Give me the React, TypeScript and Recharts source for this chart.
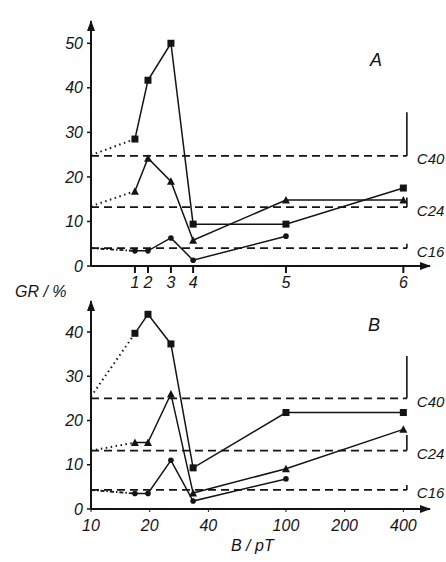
import React from 'react';
import { LineChart, Line, XAxis, YAxis, ReferenceLine, ReferenceDot } from 'recharts';

// Shared magnetic-field positions (pT) of the six measurement points
const X_POS = [16.8, 19.6, 25.7, 33.4, 100, 400];
const A_TICK_LABELS = ['1', '2', '3', '4', '5', '6'];
const B_TICKS = [10, 20, 40, 100, 200, 400];
const A_Y_TICKS = [0, 10, 20, 30, 40, 50];
const B_Y_TICKS = [0, 10, 20, 30, 40];

// Panel A values (GR / %)
const sqA = [28.5, 41.7, 50, 9.4, 9.4, 17.5];
const triA = [16.8, 24.2, 19, 5.8, 14.8, 14.8];
const cirA = [3.4, 3.4, 6.3, 1.3, 6.7];
const startA = { sq: 24.9, tri: 13.4, cir: 4.0 };
const levelsA = [
  { name: 'C40', y: 24.7, top: 34.5 },
  { name: 'C24', y: 13.2, top: 15.4 },
  { name: 'C16', y: 4.0, top: 5.0 },
];

// Panel B values (GR / %)
const sqB = [39.7, 44, 37.3, 9.3, 21.8, 21.8];
const triB = [15, 15, 26, 3.6, 9.1, 18];
const cirB = [3.5, 3.5, 11, 1.8, 6.8];
const startB = { sq: 25.4, tri: 13.2, cir: 4.3 };
const levelsB = [
  { name: 'C40', y: 25.0, top: 34.6 },
  { name: 'C24', y: 13.2, top: 16.7 },
  { name: 'C16', y: 4.3, top: 5.4 },
];

const X_MIN = 10;
const X_MAX = 548;
const LEVEL_END = 417;

const FONT = '"Liberation Sans", Arial, sans-serif';
const INK = '#141414';
const tickStyle = { fill: INK, fontSize: 16, fontStyle: 'italic', fontFamily: FONT };

const pts = (vals: number[]) => vals.map((y, i) => ({ x: X_POS[i], y }));
const lead = (y0: number, vals: number[]) => [{ x: X_MIN, y: y0 }, { x: X_POS[0], y: vals[0] }];

const SquareDot = (p: any) => {
  if (p.cx == null || p.cy == null) return <g key={p.index} />;
  return <rect key={p.index} x={p.cx - 3.5} y={p.cy - 3.5} width={7} height={7} fill={INK} />;
};
const TriDot = (p: any) => {
  if (p.cx == null || p.cy == null) return <g key={p.index} />;
  return (
    <path
      key={p.index}
      d={`M${p.cx - 4},${p.cy + 3.5} L${p.cx},${p.cy - 4} L${p.cx + 4},${p.cy + 3.5} Z`}
      fill={INK}
    />
  );
};
const CircDot = (p: any) => {
  if (p.cx == null || p.cy == null) return <g key={p.index} />;
  return <circle key={p.index} cx={p.cx} cy={p.cy} r={2.8} fill={INK} />;
};

const UpArrow = (p: any) => (
  <path d={`M${p.cx - 4},${p.cy + 10} L${p.cx},${p.cy - 1} L${p.cx + 4},${p.cy + 10} Z`} fill={INK} />
);
const RightArrow = (p: any) => (
  <path d={`M${p.cx - 10},${p.cy - 4} L${p.cx + 1},${p.cy} L${p.cx - 10},${p.cy + 4} Z`} fill={INK} />
);

function renderLevels(levels: { name: string; y: number; top: number }[]) {
  const out: React.ReactNode[] = [];
  levels.forEach((lv) => {
    out.push(
      <ReferenceLine
        key={lv.name + 'd'}
        segment={[{ x: X_MIN, y: lv.y }, { x: LEVEL_END, y: lv.y }]}
        stroke={INK}
        strokeWidth={1.8}
        strokeDasharray="8 5"
        ifOverflow="visible"
        label={{
          value: lv.name,
          position: 'right',
          offset: 10,
          dy: 3,
          fill: INK,
          fontSize: 15,
          fontStyle: 'italic',
          fontFamily: FONT,
        }}
      />
    );
    out.push(
      <ReferenceLine
        key={lv.name + 'v'}
        segment={[{ x: LEVEL_END, y: lv.y }, { x: LEVEL_END, y: lv.top }]}
        stroke={INK}
        strokeWidth={1.6}
        ifOverflow="visible"
      />
    );
  });
  return out;
}

function seriesLines(sq: number[], tri: number[], cir: number[], st: { sq: number; tri: number; cir: number }) {
  return [
    <Line key="sqLead" data={lead(st.sq, sq)} dataKey="y" stroke={INK} strokeWidth={2} strokeDasharray="1.5 3.5" dot={false} isAnimationActive={false} />,
    <Line key="triLead" data={lead(st.tri, tri)} dataKey="y" stroke={INK} strokeWidth={2} strokeDasharray="1.5 3.5" dot={false} isAnimationActive={false} />,
    <Line key="cirLead" data={lead(st.cir, cir)} dataKey="y" stroke={INK} strokeWidth={1.8} strokeDasharray="4 2 1.5 2" dot={false} isAnimationActive={false} />,
    <Line key="sq" data={pts(sq)} dataKey="y" stroke={INK} strokeWidth={1.5} dot={SquareDot} isAnimationActive={false} />,
    <Line key="tri" data={pts(tri)} dataKey="y" stroke={INK} strokeWidth={1.5} dot={TriDot} isAnimationActive={false} />,
    <Line key="cir" data={pts(cir)} dataKey="y" stroke={INK} strokeWidth={1.5} dot={CircDot} isAnimationActive={false} />,
  ];
}

const textStyle: React.CSSProperties = {
  position: 'absolute',
  fontFamily: FONT,
  fontStyle: 'italic',
  color: INK,
  whiteSpace: 'nowrap',
  lineHeight: 1,
};

export default function App() {
  return (
    <div style={{ position: 'absolute', left: 0, top: 0, width: 446, height: 562, background: '#fff', overflow: 'hidden' }}>
      <div style={{ position: 'absolute', left: 0, top: 0 }}>
        <LineChart width={446} height={300} margin={{ top: 21, right: 16, bottom: 4, left: 0 }} style={{ fontFamily: FONT }}>
          <XAxis
            dataKey="x"
            type="number"
            scale="log"
            domain={[X_MIN, X_MAX]}
            allowDataOverflow
            ticks={X_POS}
            interval={0}
            tickFormatter={(v: number) => A_TICK_LABELS[X_POS.indexOf(v)] ?? ''}
            height={30}
            tick={tickStyle}
            tickSize={7}
            tickMargin={4}
            axisLine={{ stroke: INK, strokeWidth: 2 }}
            tickLine={{ stroke: INK, strokeWidth: 2 }}
          />
          <YAxis
            type="number"
            domain={[0, 55]}
            ticks={A_Y_TICKS}
            interval={0}
            width={91}
            tick={tickStyle}
            tickSize={4}
            tickMargin={4}
            axisLine={{ stroke: INK, strokeWidth: 2 }}
            tickLine={{ stroke: INK, strokeWidth: 1.5 }}
          />
          {renderLevels(levelsA)}
          {seriesLines(sqA, triA, cirA, startA)}
          <ReferenceDot x={X_MIN} y={55} r={0} shape={UpArrow} ifOverflow="visible" />
          <ReferenceDot x={X_MAX} y={0} r={0} shape={RightArrow} ifOverflow="visible" />
        </LineChart>
      </div>
      <div style={{ position: 'absolute', left: 0, top: 280 }}>
        <LineChart width={446} height={282} margin={{ top: 21, right: 16, bottom: 23, left: 0 }} style={{ fontFamily: FONT }}>
          <XAxis
            dataKey="x"
            type="number"
            scale="log"
            domain={[X_MIN, X_MAX]}
            allowDataOverflow
            ticks={B_TICKS}
            interval={0}
            height={30}
            tick={tickStyle}
            tickSize={3}
            tickMargin={8}
            axisLine={{ stroke: INK, strokeWidth: 2 }}
            tickLine={{ stroke: INK, strokeWidth: 1 }}
          />
          <YAxis
            type="number"
            domain={[0, 47]}
            ticks={B_Y_TICKS}
            interval={0}
            width={91}
            tick={tickStyle}
            tickSize={4}
            tickMargin={4}
            axisLine={{ stroke: INK, strokeWidth: 2 }}
            tickLine={{ stroke: INK, strokeWidth: 1.5 }}
          />
          {renderLevels(levelsB)}
          {seriesLines(sqB, triB, cirB, startB)}
          <ReferenceDot x={X_MIN} y={47} r={0} shape={UpArrow} ifOverflow="visible" />
          <ReferenceDot x={X_MAX} y={0} r={0} shape={RightArrow} ifOverflow="visible" />
        </LineChart>
      </div>
      <div style={{ ...textStyle, left: 15, top: 284, fontSize: 16 }}>GR / %</div>
      <div style={{ ...textStyle, left: 370, top: 51, fontSize: 18 }}>A</div>
      <div style={{ ...textStyle, left: 368, top: 316, fontSize: 18 }}>B</div>
      <div style={{ ...textStyle, left: 231, top: 538, fontSize: 16 }}>B / pT</div>
    </div>
  );
}
